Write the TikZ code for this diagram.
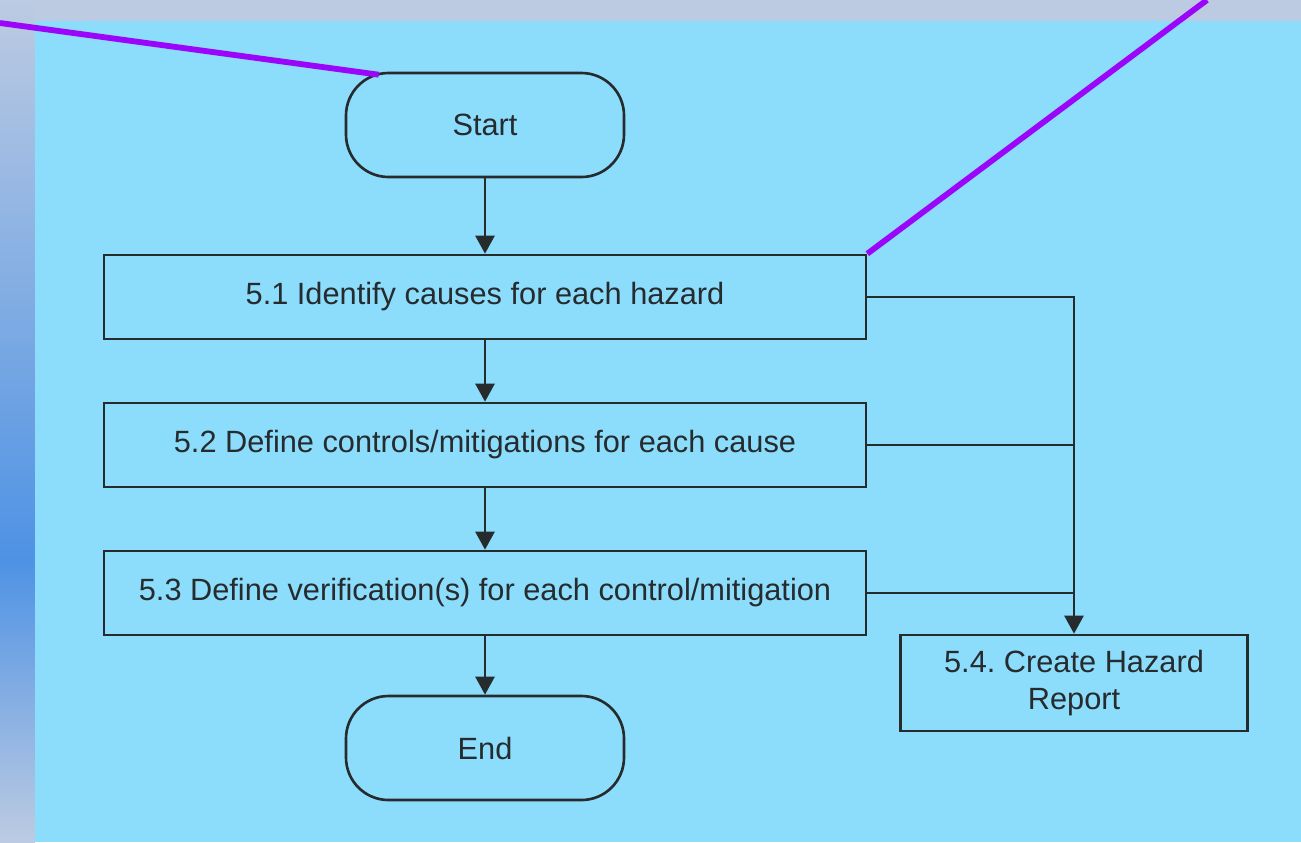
\documentclass[tikz,border=0pt]{standalone}
\usepackage{fontspec}
\setmainfont{Liberation Sans}
\usetikzlibrary{arrows.meta}
\definecolor{panel}{HTML}{8CDCFC}
\definecolor{slide}{HTML}{BCCBE2}
\definecolor{deepslide}{HTML}{4E92E4}
\definecolor{ink}{HTML}{262B2E}
\definecolor{pointer}{HTML}{9B05FA}
\tikzset{
  stepbox/.style={draw=ink, line width=1.5pt, text=ink, minimum width=15.24cm, minimum height=1.68cm, font=\fontsize{17.5}{21.5}\selectfont},
  term/.style={stepbox, minimum width=5.56cm, minimum height=2.08cm, rounded corners=0.85cm},
  flow/.style={draw=ink, line width=1.5pt, -{Triangle[length=0.36cm,width=0.38cm]}},
  callout/.style={draw=pointer, line width=3.3pt}
}
\begin{document}
\begin{tikzpicture}[x=0.2mm,y=-0.2mm]
\useasboundingbox (0,0) rectangle (1301,842);
\shade [top color=slide, bottom color=deepslide] (0,0) rectangle (35,560);
\shade [top color=deepslide, bottom color=slide] (0,560) rectangle (35,842);
\fill [slide] (35,0) rectangle (1301,21);
\fill [panel] (35,21) rectangle (1301,842);
\node [term] (start) at (485,125) {Start};
\node [stepbox] (b1) at (485,297) {5.1 Identify causes for each hazard};
\node [stepbox] (b2) at (485,445) {5.2 Define controls/mitigations for each cause};
\node [stepbox] (b3) at (485,593) {5.3 Define verification(s) for each control/mitigation};
\node [term] (end) at (485,748) {End};
\node [stepbox, minimum width=6.94cm, minimum height=1.92cm, align=center] (b4) at (1074,683) {5.4.\ Create Hazard\\Report};
\draw [flow] (start) -- (b1);
\draw [flow] (b1) -- (b2);
\draw [flow] (b2) -- (b3);
\draw [flow] (b3) -- (end);
\draw [flow] (b1.east) -| (b4.north);
\draw [draw=ink, line width=1.5pt] (b2.east) -- (b2.east -| b4.north);
\draw [draw=ink, line width=1.5pt] (b3.east) -- (b3.east -| b4.north);
\coordinate (p1) at (0,23);
\coordinate (p2) at (1207,0);
\draw [callout] (p1) -- ([shift={(34,3)}]start.north west);
\draw [callout] (p2) -- (b1.north east);
\end{tikzpicture}
\end{document}
